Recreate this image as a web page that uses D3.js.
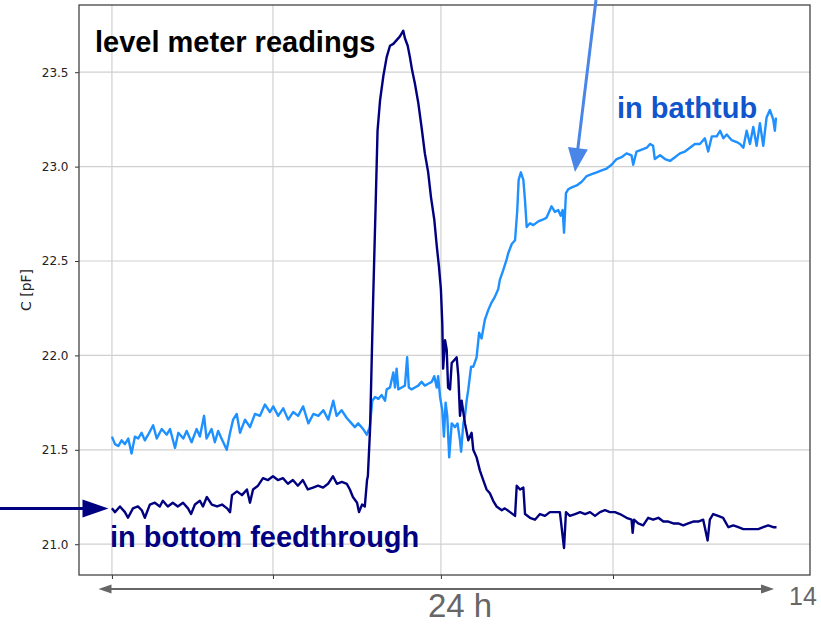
<!DOCTYPE html>
<html>
<head>
<meta charset="utf-8">
<script src="https://cdn.jsdelivr.net/npm/d3@7"></script>
<style>
  body { margin: 0; background: #fff; }
  svg { display: block; }
</style>
</head>
<body>
<svg id="chart" width="821" height="625"></svg>
<script>
// Capacitance of the level meter in the bottom feedthrough (hours, pF)
const feedHours = [0,0.11,0.29,0.47,0.58,0.76,0.94,1.08,1.19,1.37,
  1.55,1.73,1.84,2.02,2.20,2.38,2.57,2.75,2.86,3.00,
  3.18,3.29,3.43,3.61,3.80,3.98,4.16,4.27,4.34,4.52,
  4.70,4.88,4.99,5.10,5.28,5.46,5.64,5.82,6.00,6.18,
  6.36,6.54,6.72,6.90,7.08,7.27,7.45,7.63,7.81,7.99,
  8.13,8.31,8.49,8.60,8.71,8.86,8.93,9.04,9.14,9.22,
  9.25,9.33,9.44,9.53,9.60,9.69,9.81,9.93,10.05,10.17,
  10.29,10.41,10.53,10.59,10.69,10.77,10.85,10.95,11.07,11.19,
  11.31,11.43,11.53,11.65,11.74,11.82,11.89,11.94,11.97,12.04,
  12.10,12.15,12.22,12.28,12.40,12.46,12.52,12.58,12.64,12.76,
  12.88,13.00,13.06,13.18,13.30,13.42,13.54,13.66,13.78,13.90,
  14.09,14.20,14.39,14.57,14.63,14.75,14.87,14.93,15.11,15.29,
  15.47,15.65,15.83,16.01,16.19,16.34,16.41,16.55,16.74,16.92,
  17.10,17.28,17.46,17.64,17.82,18.00,18.18,18.36,18.60,18.78,
  18.82,18.87,19.02,19.20,19.38,19.56,19.75,19.93,20.11,20.29,
  20.47,20.65,20.83,21.01,21.19,21.37,21.53,21.61,21.73,21.91,
  22.09,22.28,22.46,22.64,22.82,23.00,23.18,23.36,23.54,23.72,
  23.90,24.02];
const feedPF = [21.19,21.17,21.20,21.17,21.14,21.19,21.20,21.18,21.14,21.21,
  21.22,21.20,21.23,21.20,21.22,21.20,21.22,21.19,21.16,21.21,
  21.23,21.20,21.25,21.21,21.20,21.21,21.19,21.17,21.26,21.28,
  21.26,21.29,21.22,21.29,21.31,21.35,21.34,21.36,21.34,21.35,
  21.32,21.34,21.31,21.34,21.29,21.30,21.31,21.30,21.32,21.36,
  21.32,21.33,21.32,21.29,21.25,21.22,21.17,21.21,21.20,21.34,
  21.36,21.61,22.29,22.79,23.19,23.35,23.48,23.58,23.64,23.65,
  23.67,23.69,23.72,23.68,23.64,23.58,23.51,23.44,23.34,23.21,
  23.07,22.97,22.84,22.72,22.58,22.47,22.35,22.17,21.93,22.08,
  22.03,21.83,21.82,21.96,21.98,21.99,21.89,21.68,21.76,21.64,
  21.55,21.59,21.50,21.46,21.39,21.34,21.29,21.27,21.23,21.20,
  21.18,21.19,21.17,21.15,21.31,21.29,21.30,21.16,21.14,21.13,
  21.16,21.15,21.17,21.17,21.17,20.98,21.17,21.15,21.16,21.17,
  21.16,21.17,21.15,21.17,21.18,21.17,21.17,21.16,21.14,21.13,
  21.06,21.13,21.11,21.10,21.14,21.13,21.14,21.12,21.12,21.11,
  21.11,21.10,21.11,21.12,21.12,21.13,21.02,21.13,21.16,21.15,
  21.14,21.09,21.10,21.09,21.08,21.08,21.08,21.08,21.09,21.10,
  21.09,21.09];

// Capacitance of the level meter in the bathtub (hours, pF)
const tubHours = [0,0.11,0.23,0.35,0.47,0.59,0.71,0.83,0.95,1.07,
  1.19,1.31,1.49,1.62,1.80,1.98,2.10,2.28,2.40,2.58,
  2.70,2.88,3.06,3.18,3.33,3.42,3.60,3.72,3.84,3.96,
  4.15,4.27,4.38,4.51,4.63,4.81,4.99,5.17,5.35,5.53,
  5.71,5.83,6.01,6.19,6.37,6.55,6.73,6.91,7.10,7.28,
  7.46,7.64,7.82,8.00,8.12,8.30,8.48,8.66,8.78,8.90,
  9.08,9.21,9.32,9.41,9.51,9.63,9.75,9.87,9.93,10.05,
  10.17,10.23,10.29,10.35,10.47,10.59,10.67,10.73,10.83,10.95,
  11.07,11.19,11.31,11.43,11.56,11.65,11.74,11.79,11.86,11.94,
  12.00,12.06,12.12,12.19,12.28,12.40,12.49,12.58,12.62,12.70,
  12.76,12.82,12.88,12.98,13.06,13.18,13.27,13.36,13.48,13.60,
  13.72,13.84,13.96,14.02,14.14,14.27,14.32,14.45,14.57,14.65,
  14.70,14.78,14.87,14.93,14.99,15.11,15.23,15.41,15.59,15.71,
  15.89,16.01,16.13,16.22,16.29,16.34,16.41,16.49,16.62,16.80,
  16.98,17.16,17.34,17.52,17.70,17.88,18.06,18.24,18.42,18.60,
  18.78,18.84,18.96,19.15,19.33,19.45,19.56,19.62,19.81,19.99,
  20.17,20.35,20.53,20.71,20.89,21.07,21.25,21.43,21.55,21.68,
  21.86,21.98,22.10,22.22,22.40,22.58,22.70,22.82,22.94,23.06,
  23.18,23.30,23.42,23.54,23.66,23.78,23.90,23.96,24.00];
const tubPF = [21.57,21.53,21.52,21.55,21.53,21.56,21.48,21.57,21.56,21.59,
  21.55,21.58,21.63,21.56,21.61,21.58,21.61,21.51,21.59,21.56,
  21.60,21.54,21.61,21.57,21.68,21.56,21.61,21.54,21.60,21.56,
  21.50,21.59,21.66,21.69,21.59,21.66,21.62,21.69,21.68,21.74,
  21.70,21.73,21.68,21.72,21.66,21.70,21.68,21.73,21.64,21.69,
  21.68,21.71,21.66,21.76,21.68,21.71,21.67,21.64,21.62,21.64,
  21.61,21.58,21.62,21.76,21.78,21.77,21.79,21.76,21.82,21.83,
  21.91,21.83,21.93,21.82,21.83,21.84,21.99,21.83,21.82,21.83,
  21.84,21.86,21.84,21.85,21.86,21.89,21.83,21.89,21.78,21.71,
  21.57,21.75,21.68,21.46,21.64,21.62,21.64,21.55,21.49,21.64,
  21.68,21.76,21.82,21.94,21.94,21.99,22.12,22.09,22.19,22.24,
  22.28,22.31,22.35,22.40,22.45,22.51,22.54,22.59,22.61,22.77,
  22.93,22.97,22.93,22.82,22.68,22.70,22.69,22.71,22.72,22.73,
  22.79,22.76,22.77,22.74,22.77,22.65,22.86,22.88,22.89,22.90,
  22.92,22.95,22.96,22.97,22.98,22.99,23.01,23.04,23.05,23.07,
  23.06,23.01,23.08,23.09,23.10,23.12,23.11,23.04,23.06,23.04,
  23.03,23.05,23.07,23.08,23.10,23.12,23.12,23.15,23.08,23.16,
  23.16,23.19,23.15,23.17,23.14,23.13,23.12,23.10,23.19,23.12,
  23.21,23.11,23.23,23.11,23.26,23.30,23.25,23.19,23.26];

const yTickValues = [21.0, 21.5, 22.0, 22.5, 23.0, 23.5];
const xTickHours = [0, 5.82, 11.89, 18.11];

const plot = { left: 79, right: 810, top: 5, bottom: 575 };
const x = d3.scaleLinear().domain([-1.19, 25.23]).range([plot.left, plot.right]);
const y = d3.scaleLinear().domain([20.837, 23.856]).range([plot.bottom, plot.top]);

const svg = d3.select("#chart");
svg.append("rect").attr("width", 821).attr("height", 625).attr("fill", "#fff");

// grid
const grid = svg.append("g");
grid.selectAll("line.gx").data(xTickHours).join("line")
  .attr("x1", d => x(d)).attr("x2", d => x(d))
  .attr("y1", plot.top).attr("y2", plot.bottom)
  .attr("stroke", "#d0d0d0").attr("stroke-width", 1.2);
grid.selectAll("line.gy").data(yTickValues).join("line")
  .attr("x1", plot.left).attr("x2", plot.right)
  .attr("y1", d => y(d)).attr("y2", d => y(d))
  .attr("stroke", "#d0d0d0").attr("stroke-width", 1.2);

// axes
const yAxis = svg.append("g")
  .attr("transform", `translate(${plot.left},0)`)
  .call(d3.axisLeft(y).tickValues(yTickValues).tickFormat(d3.format(".1f"))
    .tickSize(4).tickPadding(6.5));
yAxis.select(".domain").remove();
yAxis.selectAll("line").attr("stroke", "#333").attr("stroke-width", 1);
yAxis.selectAll("text").attr("fill", "#222")
  .style("font-family", "'DejaVu Sans', sans-serif").style("font-size", "12px");

const xAxis = svg.append("g")
  .attr("transform", `translate(0,${plot.bottom})`)
  .call(d3.axisBottom(x).tickValues(xTickHours).tickFormat("").tickSize(4));
xAxis.select(".domain").remove();
xAxis.selectAll("line").attr("stroke", "#333").attr("stroke-width", 1);

// data lines
const line = d3.line().x(d => x(d[0])).y(d => y(d[1]));
const tubData = d3.zip(tubHours, tubPF);
const feedData = d3.zip(feedHours, feedPF);

svg.append("path").datum(tubData).attr("d", line)
  .attr("fill", "none").attr("stroke", "#1e90ff").attr("stroke-width", 2.4)
  .attr("stroke-linejoin", "round");
svg.append("path").datum(feedData).attr("d", line)
  .attr("fill", "none").attr("stroke", "#000080").attr("stroke-width", 2.4)
  .attr("stroke-linejoin", "round");

// frame
svg.append("rect")
  .attr("x", plot.left).attr("y", plot.top)
  .attr("width", plot.right - plot.left).attr("height", plot.bottom - plot.top)
  .attr("fill", "none").attr("stroke", "#444").attr("stroke-width", 1.3);

// y label
svg.append("text")
  .attr("transform", "translate(31,290) rotate(-90)")
  .attr("text-anchor", "middle")
  .attr("fill", "#222")
  .style("font-family", "'DejaVu Sans', sans-serif").style("font-size", "14px")
  .text("C [pF]");

// annotation helper: straight arrow with a filled triangular head
function arrow(x1, y1, x2, y2, color, width, headLen, headHalf) {
  const dx = x2 - x1, dy = y2 - y1, len = Math.hypot(dx, dy);
  const ux = dx / len, uy = dy / len, px = -uy, py = ux;
  const bx = x2 - ux * headLen, by = y2 - uy * headLen;
  svg.append("line").attr("x1", x1).attr("y1", y1).attr("x2", bx + ux).attr("y2", by + uy)
    .attr("stroke", color).attr("stroke-width", width);
  svg.append("path")
    .attr("d", `M${x2},${y2}L${bx + px * headHalf},${by + py * headHalf}L${bx - px * headHalf},${by - py * headHalf}Z`)
    .attr("fill", color);
}

arrow(0, 508.5, 108.5, 508.5, "#000080", 3, 26, 9);
arrow(596, 0, 575, 172, "#4a86e8", 3, 24, 10);
// 24 h span arrow
arrow(436, 589, 98.5, 589, "#666", 2, 13, 4.5);
arrow(430, 589, 774, 589, "#666", 2, 13, 4.5);

const boldFont = "'Liberation Sans', Arial, sans-serif";
svg.append("text").attr("x", 95).attr("y", 52)
  .attr("fill", "#000").style("font-family", boldFont).style("font-weight", "bold")
  .style("font-size", "29px").text("level meter readings");
svg.append("text").attr("x", 617).attr("y", 118)
  .attr("fill", "#1155cc").style("font-family", boldFont).style("font-weight", "bold")
  .style("font-size", "29px").text("in bathtub");
svg.append("text").attr("x", 110).attr("y", 547)
  .attr("fill", "#000080").style("font-family", boldFont).style("font-weight", "bold")
  .style("font-size", "29px").text("in bottom feedthrough");
svg.append("text").attr("x", 428).attr("y", 617)
  .attr("fill", "#666").style("font-family", boldFont)
  .style("font-size", "33px").text("24 h");
svg.append("text").attr("x", 789).attr("y", 605)
  .attr("fill", "#666").style("font-family", boldFont)
  .style("font-size", "25px").text("14");
</script>
</body>
</html>
